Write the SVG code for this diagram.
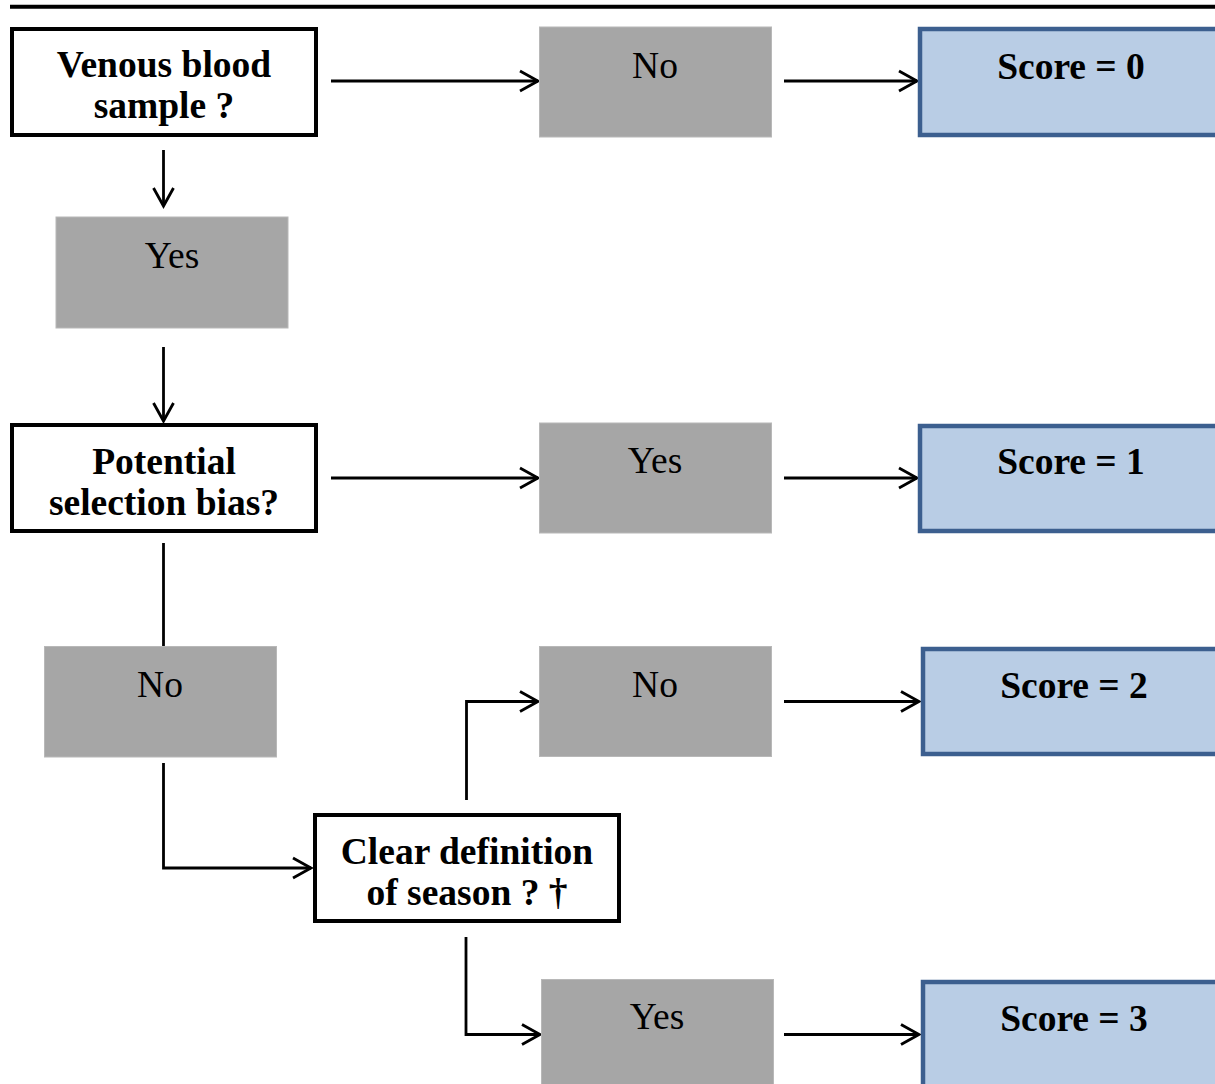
<svg xmlns="http://www.w3.org/2000/svg" width="1215" height="1084" viewBox="0 0 1215 1084">
<style>
.q{fill:#fff;stroke:#000;stroke-width:4}
.g{fill:#a6a6a6;stroke:#b8b8b8;stroke-width:1}
.s{fill:#b9cde5;stroke:#3c5f8f;stroke-width:4.5}
.tb{font-family:"Liberation Serif","Times New Roman",serif;font-weight:bold;font-size:37.5px;text-anchor:middle;fill:#000}
.tr{font-family:"Liberation Serif","Times New Roman",serif;font-size:37.5px;text-anchor:middle;fill:#000}
.c{fill:none;stroke:#000;stroke-width:2.8}
</style>
<defs>
<marker id="ah" markerUnits="userSpaceOnUse" markerWidth="24" markerHeight="24" refX="19" refY="10" orient="auto" overflow="visible">
<path d="M1,0 L19,10 L1,20" fill="none" stroke="#000" stroke-width="2.8"/>
</marker>
</defs>
<line x1="10" y1="6.7" x2="1215" y2="6.7" stroke="#000" stroke-width="4"/>
<g id="connectors">
<line class="c" x1="331" y1="81" x2="538" y2="81" marker-end="url(#ah)"/>
<line class="c" x1="784" y1="81" x2="917" y2="81" marker-end="url(#ah)"/>
<line class="c" x1="163.5" y1="150" x2="163.5" y2="206" marker-end="url(#ah)"/>
<line class="c" x1="163.5" y1="347" x2="163.5" y2="421" marker-end="url(#ah)"/>
<line class="c" x1="331" y1="478" x2="538" y2="478" marker-end="url(#ah)"/>
<line class="c" x1="784" y1="478" x2="917" y2="478" marker-end="url(#ah)"/>
<line class="c" x1="163.5" y1="543" x2="163.5" y2="646"/>
<polyline class="c" points="163.5,763 163.5,868 311,868" marker-end="url(#ah)"/>
<polyline class="c" points="466.5,800 466.5,701.5 538,701.5" marker-end="url(#ah)"/>
<line class="c" x1="784" y1="701.5" x2="919" y2="701.5" marker-end="url(#ah)"/>
<polyline class="c" points="466,937 466,1034.5 540,1034.5" marker-end="url(#ah)"/>
<line class="c" x1="784" y1="1034.5" x2="919" y2="1034.5" marker-end="url(#ah)"/>
</g>
<g id="venous">
<rect class="q" x="12" y="29" width="304" height="106"/>
<text class="tb" x="164" y="76.5">Venous blood</text>
<text class="tb" x="164" y="117.5">sample ?</text>
</g>
<g id="no1">
<rect class="g" x="539.5" y="27" width="232" height="110"/>
<text class="tr" x="655" y="77.5">No</text>
</g>
<g id="score0">
<rect class="s" x="920" y="29" width="310" height="106"/>
<text class="tb" x="1071" y="79">Score = 0</text>
</g>
<g id="yes1">
<rect class="g" x="56" y="217" width="232" height="111"/>
<text class="tr" x="172" y="267.5">Yes</text>
</g>
<g id="potential">
<rect class="q" x="12" y="425" width="304" height="106"/>
<text class="tb" x="164" y="473.5">Potential</text>
<text class="tb" x="164" y="515">selection bias?</text>
</g>
<g id="yes2">
<rect class="g" x="539.5" y="423" width="232" height="110"/>
<text class="tr" x="655" y="473">Yes</text>
</g>
<g id="score1">
<rect class="s" x="920" y="426" width="310" height="105"/>
<text class="tb" x="1071" y="474">Score = 1</text>
</g>
<g id="no2">
<rect class="g" x="44.5" y="646.5" width="232" height="110.5"/>
<text class="tr" x="160" y="697">No</text>
</g>
<g id="no3">
<rect class="g" x="539.5" y="646.5" width="232" height="110"/>
<text class="tr" x="655" y="697">No</text>
</g>
<g id="score2">
<rect class="s" x="923" y="649" width="310" height="105"/>
<text class="tb" x="1074" y="698">Score = 2</text>
</g>
<g id="clear">
<rect class="q" x="315" y="815" width="304" height="106"/>
<text class="tb" x="467" y="863.5">Clear definition</text>
<text class="tb" x="467" y="905">of season ? †</text>
</g>
<g id="yes3">
<rect class="g" x="541.5" y="979.5" width="232" height="115"/>
<text class="tr" x="657" y="1029">Yes</text>
</g>
<g id="score3">
<rect class="s" x="923" y="982" width="310" height="115"/>
<text class="tb" x="1074" y="1031">Score = 3</text>
</g>
</svg>
